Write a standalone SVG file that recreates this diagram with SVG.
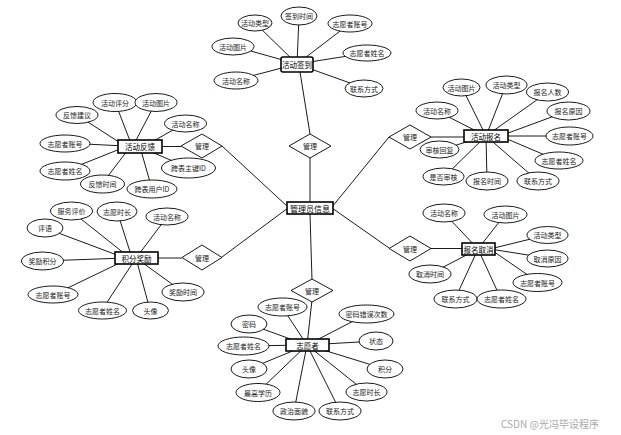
<svg xmlns="http://www.w3.org/2000/svg" width="621" height="435" viewBox="0 0 621 435">
<style>
.c line{stroke:#000;stroke-width:0.9}
ellipse{fill:#fff;stroke:#000;stroke-width:0.9}
.e{fill:#fff;stroke:#000;stroke-width:1.6}
.d{fill:#fff;stroke:#000;stroke-width:0.9}
text{font-family:"Noto Sans CJK SC","Noto Sans",sans-serif;font-size:7px;fill:#222;text-anchor:middle;dominant-baseline:central}
.t{font-size:7.5px;fill:#000}
.m{font-size:8px;fill:#000}
.w{font-size:10px;fill:#aaa;text-anchor:start}
</style>
<rect width="621" height="435" fill="#fff"/>
<g class="c" id="connectors">
<line x1="255" y1="23" x2="297" y2="64"/>
<line x1="299" y1="16" x2="297" y2="64"/>
<line x1="350" y1="23.5" x2="297" y2="64"/>
<line x1="233" y1="46" x2="297" y2="64"/>
<line x1="367" y1="53" x2="297" y2="64"/>
<line x1="236" y1="80" x2="297" y2="64"/>
<line x1="364" y1="88" x2="297" y2="64"/>
<line x1="300" y1="72" x2="310" y2="134"/>
<line x1="310" y1="158" x2="310" y2="203"/>
<line x1="115" y1="102" x2="132" y2="146"/>
<line x1="156" y1="102" x2="133" y2="146"/>
<line x1="77" y1="115" x2="125" y2="146"/>
<line x1="185" y1="123" x2="145" y2="146"/>
<line x1="65" y1="143" x2="125" y2="146"/>
<line x1="65" y1="171" x2="125" y2="147"/>
<line x1="102" y1="184" x2="130" y2="147"/>
<line x1="189" y1="168" x2="140" y2="147"/>
<line x1="152" y1="189" x2="140" y2="147"/>
<line x1="162" y1="146.5" x2="181" y2="146.5"/>
<line x1="222" y1="146" x2="288" y2="207"/>
<line x1="71" y1="211" x2="130" y2="258"/>
<line x1="117" y1="211" x2="132" y2="258"/>
<line x1="167" y1="217" x2="136" y2="258"/>
<line x1="45" y1="228" x2="125" y2="258"/>
<line x1="42" y1="261" x2="125" y2="258"/>
<line x1="53" y1="295" x2="130" y2="258"/>
<line x1="102" y1="310" x2="136" y2="258"/>
<line x1="150" y1="310" x2="136" y2="258"/>
<line x1="183" y1="292" x2="136" y2="258"/>
<line x1="158" y1="258" x2="182" y2="258"/>
<line x1="222" y1="257" x2="288" y2="208"/>
<line x1="462" y1="87.5" x2="486" y2="136"/>
<line x1="506" y1="85" x2="486" y2="136"/>
<line x1="548" y1="92" x2="486" y2="136"/>
<line x1="437" y1="111" x2="486" y2="136"/>
<line x1="568" y1="111" x2="500" y2="136"/>
<line x1="570" y1="136" x2="500" y2="136"/>
<line x1="440" y1="150" x2="486" y2="136"/>
<line x1="559" y1="161" x2="500" y2="136"/>
<line x1="444" y1="177" x2="486" y2="136"/>
<line x1="487" y1="181" x2="486" y2="136"/>
<line x1="538" y1="181" x2="486" y2="136"/>
<line x1="431" y1="137" x2="464" y2="137"/>
<line x1="389" y1="137" x2="332" y2="207"/>
<line x1="444" y1="213" x2="478" y2="249"/>
<line x1="505" y1="214.5" x2="478" y2="249"/>
<line x1="547" y1="235" x2="490" y2="249"/>
<line x1="547" y1="258" x2="490" y2="249"/>
<line x1="430" y1="274" x2="478" y2="249"/>
<line x1="538" y1="282" x2="490" y2="249"/>
<line x1="455" y1="299" x2="478" y2="249"/>
<line x1="501" y1="299" x2="478" y2="249"/>
<line x1="431" y1="248.5" x2="462" y2="248.5"/>
<line x1="389" y1="248" x2="332" y2="208"/>
<line x1="310" y1="214" x2="312" y2="280"/>
<line x1="312" y1="300" x2="307" y2="345"/>
<line x1="282" y1="307" x2="307" y2="345"/>
<line x1="249" y1="324" x2="307" y2="345"/>
<line x1="367" y1="314" x2="307" y2="345"/>
<line x1="243" y1="346" x2="307" y2="345"/>
<line x1="376" y1="341" x2="307" y2="345"/>
<line x1="249" y1="369" x2="307" y2="345"/>
<line x1="385" y1="369" x2="307" y2="345"/>
<line x1="258" y1="392" x2="307" y2="345"/>
<line x1="366" y1="392" x2="307" y2="345"/>
<line x1="294" y1="411" x2="307" y2="345"/>
<line x1="340" y1="411" x2="307" y2="345"/>
</g>

<g id="admin"><rect class="e" x="287" y="202" width="46" height="12"/><text class="m" x="310" y="208">管理员信息</text></g>

<g id="rel-top"><polygon class="d" points="310,134 331,146 310,158 289,146"/><text x="310" y="146">管理</text></g>
<g id="rel-lt"><polygon class="d" points="202,134 222,146 202,158 181,146"/><text x="202" y="146">管理</text></g>
<g id="rel-lb"><polygon class="d" points="202,245 222,257.5 202,270 182,257.5"/><text x="202" y="257.5">管理</text></g>
<g id="rel-rt"><polygon class="d" points="410,125 431,137 410,149 389,137"/><text x="410" y="137">管理</text></g>
<g id="rel-rb"><polygon class="d" points="410,236 431,248.5 410,261 389,248.5"/><text x="410" y="248.5">管理</text></g>
<g id="rel-b"><polygon class="d" points="312,279 333,290.5 312,302 291,290.5"/><text x="312" y="290.5">管理</text></g>

<g id="signin"><rect class="e" x="281" y="57" width="32" height="15" rx="2"/><text class="t" x="297" y="64.5">活动签到</text></g>
<g id="s1"><ellipse cx="255" cy="23" rx="17" ry="8"/><text x="255" y="23">活动类型</text></g>
<g id="s2"><ellipse cx="299" cy="16" rx="18" ry="9"/><text x="299" y="16">签到时间</text></g>
<g id="s3"><ellipse cx="350" cy="23.5" rx="22" ry="8.5"/><text x="350" y="23.5">志愿者账号</text></g>
<g id="s4"><ellipse cx="233" cy="46.5" rx="21" ry="8.5"/><text x="233" y="46.5">活动图片</text></g>
<g id="s5"><ellipse cx="367" cy="53" rx="24" ry="8"/><text x="367" y="53">志愿者姓名</text></g>
<g id="s6"><ellipse cx="236" cy="80.5" rx="22" ry="8.5"/><text x="236" y="80.5">活动名称</text></g>
<g id="s7"><ellipse cx="364" cy="88.5" rx="19" ry="8.5"/><text x="364" y="88.5">联系方式</text></g>

<g id="feedback"><rect class="e" x="118" y="140" width="44" height="13"/><text class="t" x="140" y="146.5">活动反馈</text></g>
<g id="f1"><ellipse cx="115" cy="102.5" rx="22" ry="9"/><text x="115" y="102.5">活动评分</text></g>
<g id="f2"><ellipse cx="156" cy="102.5" rx="21" ry="9"/><text x="156" y="102.5">活动图片</text></g>
<g id="f3"><ellipse cx="77" cy="115" rx="21" ry="8.5"/><text x="77" y="115">反馈建议</text></g>
<g id="f4"><ellipse cx="185.5" cy="123.5" rx="21" ry="8.5"/><text x="185.5" y="123.5">活动名称</text></g>
<g id="f5"><ellipse cx="65" cy="143.5" rx="25" ry="8.5"/><text x="65" y="143.5">志愿者账号</text></g>
<g id="f6"><ellipse cx="65" cy="171" rx="25" ry="9"/><text x="65" y="171">志愿者姓名</text></g>
<g id="f7"><ellipse cx="102.5" cy="184" rx="22" ry="9"/><text x="102.5" y="184">反馈时间</text></g>
<g id="f8"><ellipse cx="188.5" cy="168" rx="27" ry="10"/><text x="188.5" y="168">跨表主键ID</text></g>
<g id="f9"><ellipse cx="152" cy="189" rx="25" ry="9"/><text x="152" y="189">跨表用户ID</text></g>

<g id="reward"><rect class="e" x="115" y="252" width="43" height="12"/><text class="t" x="136.5" y="258">积分奖励</text></g>
<g id="r1"><ellipse cx="71.5" cy="211" rx="21" ry="9"/><text x="71.5" y="211">服务评价</text></g>
<g id="r2"><ellipse cx="117" cy="211.5" rx="20" ry="9.5"/><text x="117" y="211.5">志愿时长</text></g>
<g id="r3"><ellipse cx="167" cy="216.5" rx="21" ry="8.5"/><text x="167" y="216.5">活动名称</text></g>
<g id="r4"><ellipse cx="45" cy="228" rx="18" ry="9"/><text x="45" y="228">评语</text></g>
<g id="r5"><ellipse cx="42.5" cy="261" rx="21" ry="9"/><text x="42.5" y="261">奖励积分</text></g>
<g id="r6"><ellipse cx="53" cy="294.5" rx="25" ry="8.5"/><text x="53" y="294.5">志愿者账号</text></g>
<g id="r7"><ellipse cx="102.5" cy="310.5" rx="24" ry="8.5"/><text x="102.5" y="310.5">志愿者姓名</text></g>
<g id="r8"><ellipse cx="150.5" cy="310.5" rx="18" ry="8.5"/><text x="150.5" y="310.5">头像</text></g>
<g id="r9"><ellipse cx="183" cy="292" rx="21" ry="9"/><text x="183" y="292">奖励时间</text></g>

<g id="signup"><rect class="e" x="464" y="130" width="44" height="12"/><text class="t" x="486" y="136">活动报名</text></g>
<g id="a1"><ellipse cx="461.5" cy="87.5" rx="18.5" ry="8.5"/><text x="461.5" y="87.5">活动图片</text></g>
<g id="a2"><ellipse cx="506.5" cy="85" rx="20.5" ry="9"/><text x="506.5" y="85">活动类型</text></g>
<g id="a3"><ellipse cx="547.5" cy="92" rx="21" ry="9"/><text x="547.5" y="92">报名人数</text></g>
<g id="a4"><ellipse cx="437" cy="110.5" rx="21" ry="8.5"/><text x="437" y="110.5">活动名称</text></g>
<g id="a5"><ellipse cx="568.5" cy="111" rx="21.5" ry="9"/><text x="568.5" y="111">报名原因</text></g>
<g id="a6"><ellipse cx="569.5" cy="136" rx="23.5" ry="9"/><text x="569.5" y="136">志愿者账号</text></g>
<g id="a7"><ellipse cx="439.5" cy="149.5" rx="19.5" ry="8.5"/><text x="439.5" y="149.5">审核回复</text></g>
<g id="a8"><ellipse cx="559" cy="160.5" rx="24" ry="8.5"/><text x="559" y="160.5">志愿者姓名</text></g>
<g id="a9"><ellipse cx="443.5" cy="176.5" rx="20.5" ry="8.5"/><text x="443.5" y="176.5">是否审核</text></g>
<g id="a10"><ellipse cx="487" cy="181" rx="21" ry="9"/><text x="487" y="181">报名时间</text></g>
<g id="a11"><ellipse cx="538" cy="181" rx="21" ry="9"/><text x="538" y="181">联系方式</text></g>

<g id="cancel"><rect class="e" x="462" y="243" width="33" height="12"/><text class="t" x="478.5" y="249">报名取消</text></g>
<g id="b1"><ellipse cx="444" cy="213" rx="21" ry="9"/><text x="444" y="213">活动名称</text></g>
<g id="b2"><ellipse cx="505.5" cy="214.5" rx="21.5" ry="8.5"/><text x="505.5" y="214.5">活动图片</text></g>
<g id="b3"><ellipse cx="547.5" cy="235" rx="20.5" ry="8.5"/><text x="547.5" y="235">活动类型</text></g>
<g id="b4"><ellipse cx="547.5" cy="258.5" rx="20.5" ry="8.5"/><text x="547.5" y="258.5">取消原因</text></g>
<g id="b5"><ellipse cx="430" cy="274" rx="21" ry="9"/><text x="430" y="274">取消时间</text></g>
<g id="b6"><ellipse cx="537.5" cy="282.5" rx="24.5" ry="9"/><text x="537.5" y="282.5">志愿者账号</text></g>
<g id="b7"><ellipse cx="455.5" cy="299" rx="21.5" ry="9"/><text x="455.5" y="299">联系方式</text></g>
<g id="b8"><ellipse cx="501.5" cy="299" rx="24.5" ry="9"/><text x="501.5" y="299">志愿者姓名</text></g>

<g id="volunteer"><rect class="e" x="286" y="339" width="43" height="12"/><text class="t" x="307.5" y="345">志愿者</text></g>
<g id="v1"><ellipse cx="282.5" cy="307" rx="24.5" ry="9"/><text x="282.5" y="307">志愿者账号</text></g>
<g id="v2"><ellipse cx="249" cy="324" rx="18" ry="9"/><text x="249" y="324">密码</text></g>
<g id="v3"><ellipse cx="366.5" cy="314" rx="27.5" ry="9"/><text x="366.5" y="314">密码错误次数</text></g>
<g id="v4"><ellipse cx="243.5" cy="346" rx="25.5" ry="9"/><text x="243.5" y="346">志愿者姓名</text></g>
<g id="v5"><ellipse cx="376" cy="341" rx="17" ry="9"/><text x="376" y="341">状态</text></g>
<g id="v6"><ellipse cx="249" cy="369" rx="18" ry="9"/><text x="249" y="369">头像</text></g>
<g id="v7"><ellipse cx="385" cy="369" rx="18" ry="9"/><text x="385" y="369">积分</text></g>
<g id="v8"><ellipse cx="258" cy="392.5" rx="22" ry="9"/><text x="258" y="392.5">最高学历</text></g>
<g id="v9"><ellipse cx="366.5" cy="392" rx="20.5" ry="9"/><text x="366.5" y="392">志愿时长</text></g>
<g id="v10"><ellipse cx="294" cy="411" rx="21" ry="9"/><text x="294" y="411">政治面貌</text></g>
<g id="v11"><ellipse cx="340" cy="411" rx="21" ry="9"/><text x="340" y="411">联系方式</text></g>

<text class="w" x="501" y="423">CSDN @光冯毕设程序</text>
</svg>
